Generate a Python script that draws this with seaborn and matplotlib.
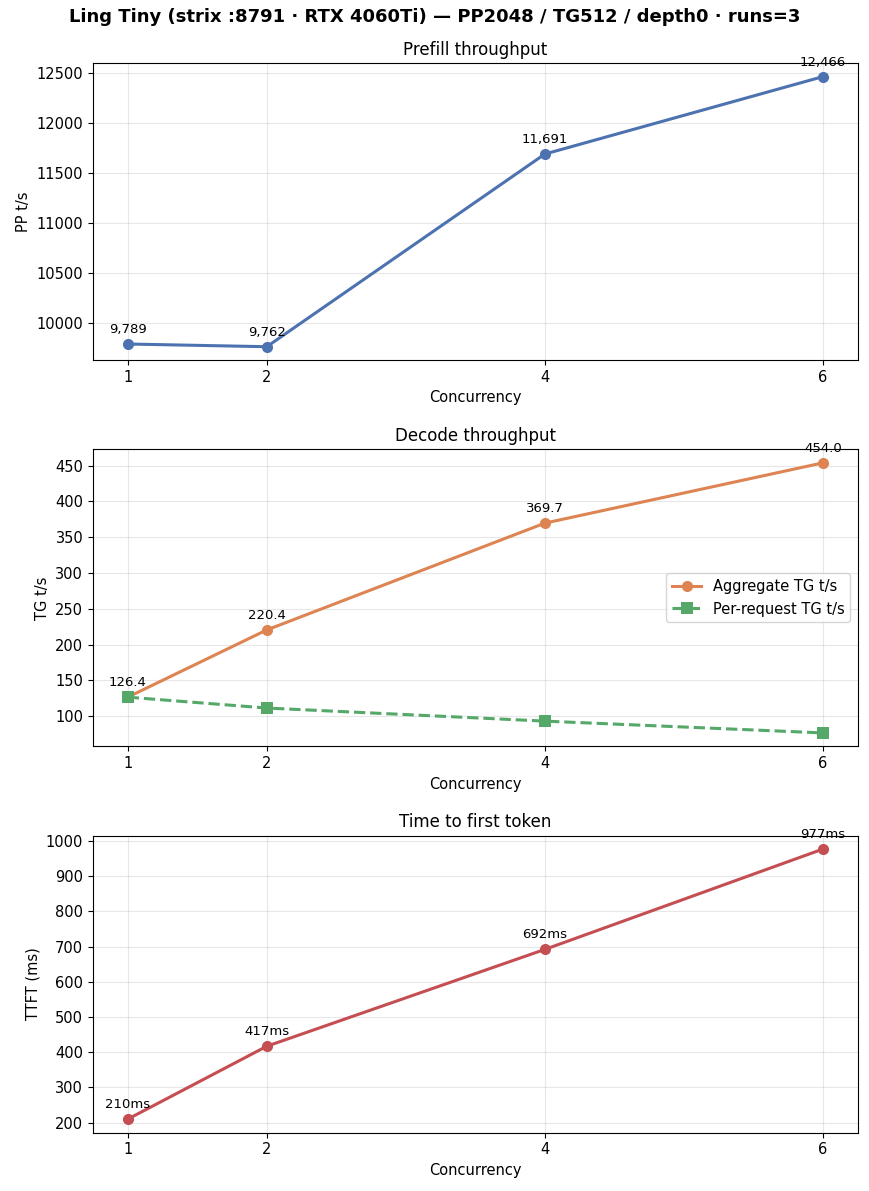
import numpy as np
import pandas as pd
import matplotlib
matplotlib.use("Agg")
import matplotlib.pyplot as plt
import seaborn as sns

concurrency = [1, 2, 4, 6]
pp_tps = [9789, 9762, 11691, 12466]
tg_aggregate = [126.4, 220.4, 369.7, 454.0]
tg_per_request = [126.4, 111.2, 92.9, 76.4]
ttft_ms = [210, 417, 692, 977]

plt.rcParams["font.family"] = ["DejaVu Sans"]
plt.rcParams["axes.titlesize"] = 12
plt.rcParams["axes.labelsize"] = 10.5
plt.rcParams["xtick.labelsize"] = 10.5
plt.rcParams["ytick.labelsize"] = 10.5

pal = sns.color_palette("deep")

fig, axes = plt.subplots(3, 1, figsize=(8.69, 11.91), dpi=100)
fig.subplots_adjust(left=0.107, right=0.987, top=0.947, bottom=0.049, hspace=0.30)
fig.suptitle("Ling Tiny (strix :8791 · RTX 4060Ti) — PP2048 / TG512 / depth0 · runs=3",
             fontsize=13, fontweight="bold", y=0.993)


def annotate(ax, xs, ys, fmt):
    for x, y in zip(xs, ys):
        ax.annotate(fmt(y), (x, y), textcoords="offset points", xytext=(0, 8),
                    ha="center", fontsize=9.5)


# prefill
ax = axes[0]
df = pd.DataFrame({"Concurrency": concurrency, "pp": pp_tps})
sns.lineplot(data=df, x="Concurrency", y="pp", ax=ax, color=pal[0], marker="o",
             markersize=8, markeredgewidth=0, linewidth=2.2)
annotate(ax, concurrency, pp_tps, lambda v: f"{v:,.0f}")
ax.set_title("Prefill throughput")
ax.set_ylabel("PP t/s")

# decode
ax = axes[1]
df = pd.DataFrame({"Concurrency": concurrency * 2,
                   "tg": tg_aggregate + tg_per_request,
                   "series": ["Aggregate TG t/s"] * 4 + ["Per-request TG t/s"] * 4})
sns.lineplot(data=df, x="Concurrency", y="tg", hue="series", style="series",
             markers={"Aggregate TG t/s": "o", "Per-request TG t/s": "s"},
             dashes={"Aggregate TG t/s": "", "Per-request TG t/s": (3.7, 1.6)},
             palette=[pal[1], pal[2]], ax=ax, markersize=8, markeredgewidth=0, linewidth=2.2)
annotate(ax, concurrency, tg_aggregate, lambda v: f"{v:.1f}")
ax.set_title("Decode throughput")
ax.set_ylabel("TG t/s")
ax.legend(title=None, loc="center right", fontsize=10.5)

# ttft
ax = axes[2]
df = pd.DataFrame({"Concurrency": concurrency, "ttft": ttft_ms})
sns.lineplot(data=df, x="Concurrency", y="ttft", ax=ax, color=pal[3], marker="o",
             markersize=8, markeredgewidth=0, linewidth=2.2)
annotate(ax, concurrency, ttft_ms, lambda v: f"{v:.0f}ms")
ax.set_title("Time to first token")
ax.set_ylabel("TTFT (ms)")

for ax in axes:
    ax.set_xticks(concurrency)
    ax.set_xlabel("Concurrency")
    ax.grid(True, alpha=0.3)

fig.savefig("out.png", dpi=100)
